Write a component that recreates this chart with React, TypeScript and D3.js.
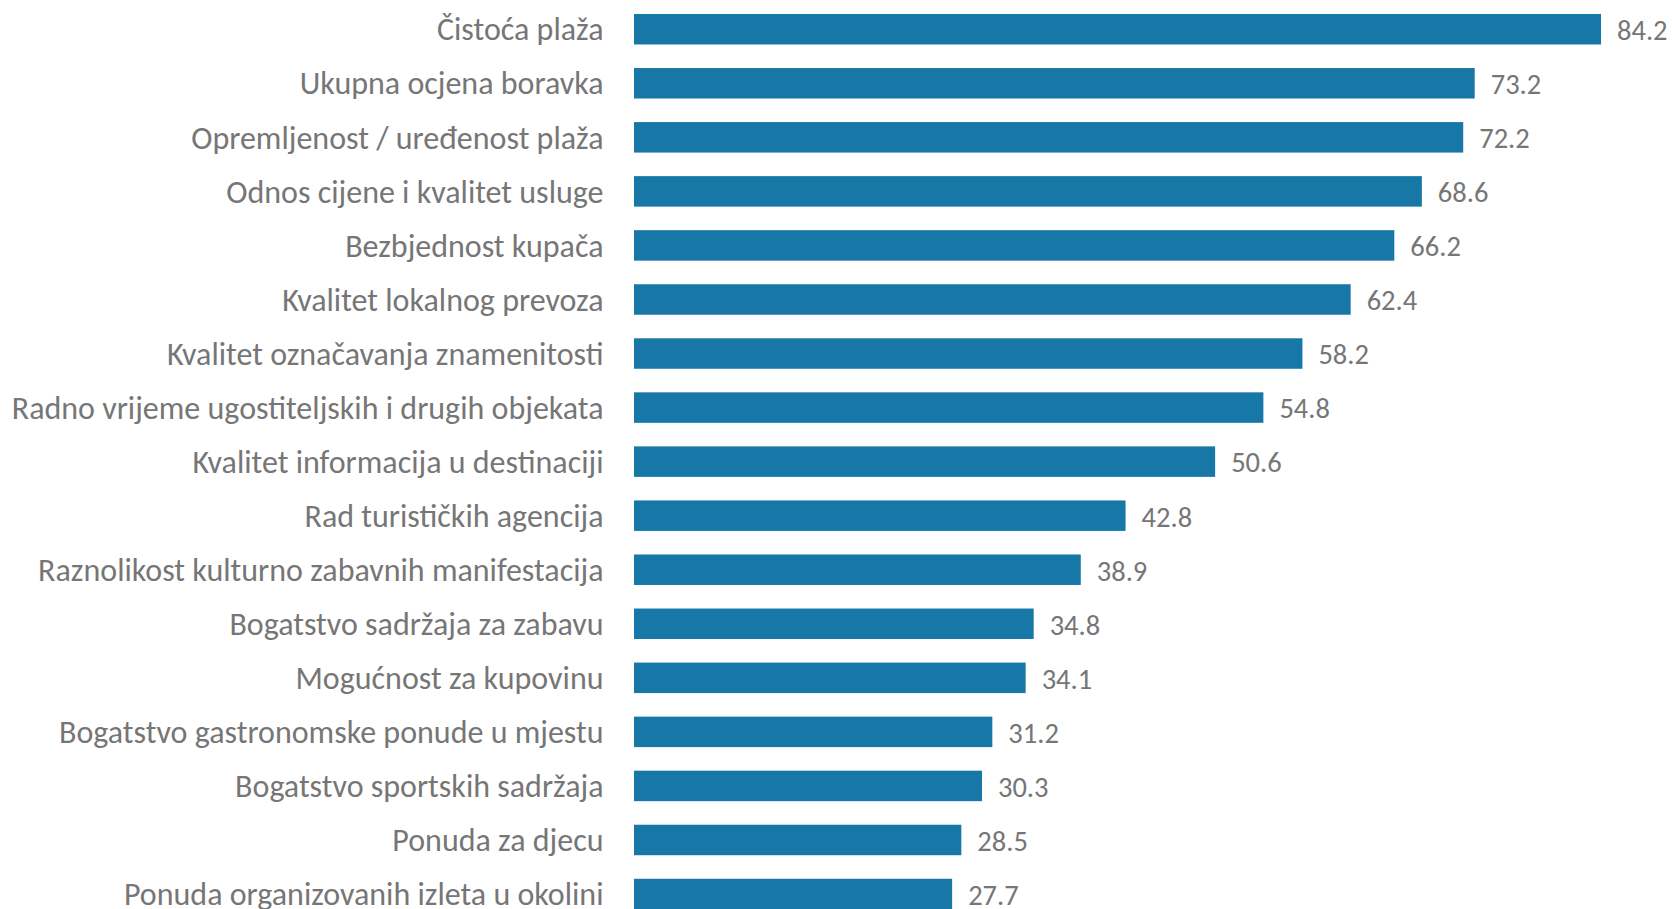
import React from "react";
import * as d3 from "d3";

const categories: string[] = [
  "Čistoća plaža",
  "Ukupna ocjena boravka",
  "Opremljenost / uređenost plaža",
  "Odnos cijene i kvalitet usluge",
  "Bezbjednost kupača",
  "Kvalitet lokalnog prevoza",
  "Kvalitet označavanja znamenitosti",
  "Radno vrijeme ugostiteljskih i drugih objekata",
  "Kvalitet informacija u destinaciji",
  "Rad turističkih agencija",
  "Raznolikost kulturno zabavnih manifestacija",
  "Bogatstvo sadržaja za zabavu",
  "Mogućnost za kupovinu",
  "Bogatstvo gastronomske ponude u mjestu",
  "Bogatstvo sportskih sadržaja",
  "Ponuda za djecu",
  "Ponuda organizovanih izleta u okolini",
];

const values: number[] = [
  84.2, 73.2, 72.2, 68.6, 66.2, 62.4, 58.2, 54.8, 50.6, 42.8, 38.9, 34.8, 34.1,
  31.2, 30.3, 28.5, 27.7,
];

const W = 1672;
const H = 909;
const FONT = "Carlito, Lato, 'Open Sans', sans-serif";

export default function App() {
  const x = d3.scaleLinear().domain([0, 90]).range([634, 634 + 90 * 11.485]);
  const y = d3
    .scaleBand<string>()
    .domain(categories)
    .range([2.2, 2.2 + 17 * 54.05])
    .paddingInner(0.436)
    .paddingOuter(0.218);

  return (
    <svg
      width={W}
      height={H}
      style={{ position: "absolute", left: 0, top: 0, background: "#fff" }}
    >
      {categories.map((c, i) => {
        const yy = y(c)!;
        const cy = yy + y.bandwidth() / 2;
        return (
          <g key={c}>
            <rect
              x={x(0)}
              y={yy}
              width={x(values[i]) - x(0)}
              height={y.bandwidth()}
              fill="#1777A7"
            />
            <text
              x={603.5}
              y={cy}
              dy="0.35em"
              textAnchor="end"
              fontFamily={FONT}
              fontSize={32}
              fill="#767676"
            >
              {c}
            </text>
            <text
              x={x(values[i]) + 16}
              y={cy}
              dy="0.38em"
              textAnchor="start"
              fontFamily={FONT}
              fontSize={28.5}
              fill="#767676"
            >
              {d3.format(".1f")(values[i])}
            </text>
          </g>
        );
      })}
    </svg>
  );
}
